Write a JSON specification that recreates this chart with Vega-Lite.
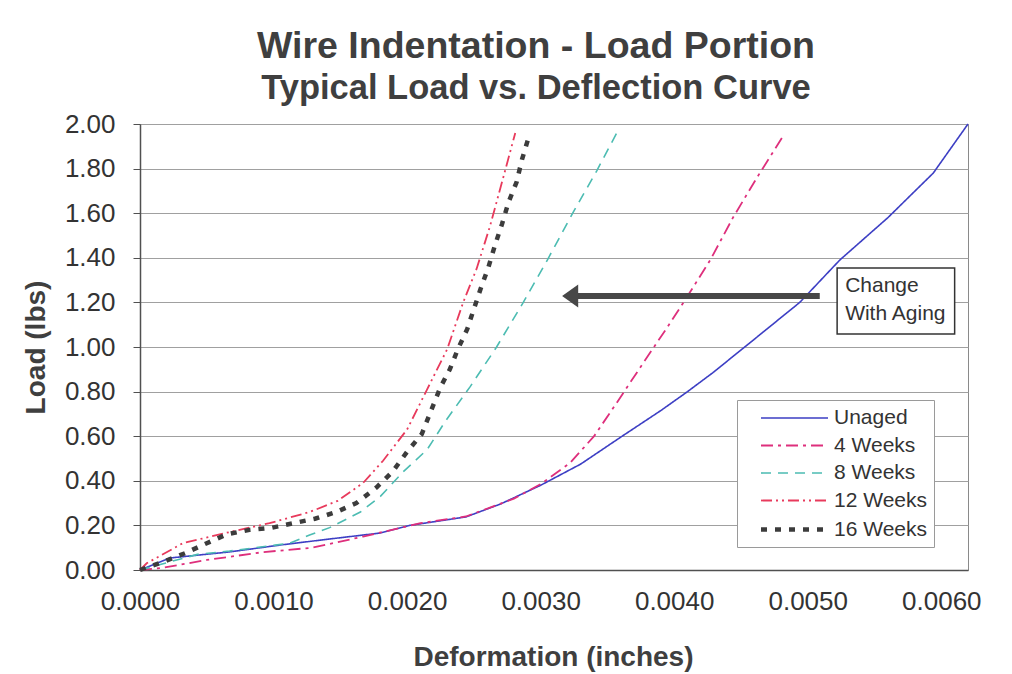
{
  "$schema": "https://vega.github.io/schema/vega-lite/v6.json",
  "width": 828,
  "height": 446,
  "autosize": {"type": "none"},
  "padding": {"left": 140, "top": 124, "right": 44, "bottom": 104},
  "background": "white",
  "title": {
    "text": "Wire Indentation - Load Portion",
    "subtitle": "Typical Load vs. Deflection Curve",
    "anchor": "middle",
    "dx": -18,
    "offset": 6,
    "font": "Liberation Sans",
    "fontSize": 37.5,
    "fontWeight": "bold",
    "color": "#3f3f3f",
    "subtitleFont": "Liberation Sans",
    "subtitleFontSize": 34.5,
    "subtitleFontWeight": "bold",
    "subtitleColor": "#3f3f3f",
    "subtitlePadding": 6
  },
  "config": {
    "font": "Liberation Sans",
    "view": {"stroke": "#8a8a8a", "strokeWidth": 1},
    "legend": {
      "orient": "none",
      "legendX": 597,
      "legendY": 276,
      "padding": 7,
      "strokeColor": "#9a9a9a",
      "fillColor": "white",
      "symbolType": "M -3.35 0 L 3.35 0",
      "symbolSize": 400,
      "symbolOffset": 38,
      "labelFont": "Liberation Sans",
      "labelFontSize": 21,
      "labelColor": "#333333",
      "labelOffset": 27,
      "rowPadding": 6.5,
      "cornerRadius": 0
    }
  },
  "datasets": {
    "curves": [
      {"series": "Unaged", "deformation": 0, "load": 0},
      {"series": "Unaged", "deformation": 0.000225, "load": 0.054},
      {"series": "Unaged", "deformation": 0.00067, "load": 0.081},
      {"series": "Unaged", "deformation": 0.00105, "load": 0.112},
      {"series": "Unaged", "deformation": 0.00142, "load": 0.139},
      {"series": "Unaged", "deformation": 0.0018, "load": 0.166},
      {"series": "Unaged", "deformation": 0.00202, "load": 0.2},
      {"series": "Unaged", "deformation": 0.00244, "load": 0.238},
      {"series": "Unaged", "deformation": 0.0027, "load": 0.296},
      {"series": "Unaged", "deformation": 0.003, "load": 0.38},
      {"series": "Unaged", "deformation": 0.0033, "load": 0.475},
      {"series": "Unaged", "deformation": 0.0036, "load": 0.596},
      {"series": "Unaged", "deformation": 0.0039, "load": 0.715},
      {"series": "Unaged", "deformation": 0.0041, "load": 0.8},
      {"series": "Unaged", "deformation": 0.00429, "load": 0.885},
      {"series": "Unaged", "deformation": 0.00459, "load": 1.03},
      {"series": "Unaged", "deformation": 0.00494, "load": 1.2},
      {"series": "Unaged", "deformation": 0.00524, "load": 1.39},
      {"series": "Unaged", "deformation": 0.0056, "load": 1.58},
      {"series": "Unaged", "deformation": 0.00594, "load": 1.78},
      {"series": "Unaged", "deformation": 0.0062, "load": 2.0},

      {"series": "4 Weeks", "deformation": 0, "load": 0},
      {"series": "4 Weeks", "deformation": 0.00017, "load": 0.01},
      {"series": "4 Weeks", "deformation": 0.0005, "load": 0.045},
      {"series": "4 Weeks", "deformation": 0.00092, "load": 0.08},
      {"series": "4 Weeks", "deformation": 0.00129, "load": 0.1},
      {"series": "4 Weeks", "deformation": 0.00167, "load": 0.15},
      {"series": "4 Weeks", "deformation": 0.0021, "load": 0.21},
      {"series": "4 Weeks", "deformation": 0.00244, "load": 0.24},
      {"series": "4 Weeks", "deformation": 0.0028, "load": 0.32},
      {"series": "4 Weeks", "deformation": 0.003, "load": 0.385},
      {"series": "4 Weeks", "deformation": 0.00322, "load": 0.48},
      {"series": "4 Weeks", "deformation": 0.0034, "load": 0.6},
      {"series": "4 Weeks", "deformation": 0.00357, "load": 0.75},
      {"series": "4 Weeks", "deformation": 0.00377, "load": 0.93},
      {"series": "4 Weeks", "deformation": 0.00395, "load": 1.09},
      {"series": "4 Weeks", "deformation": 0.00407, "load": 1.2},
      {"series": "4 Weeks", "deformation": 0.00427, "load": 1.39},
      {"series": "4 Weeks", "deformation": 0.00444, "load": 1.58},
      {"series": "4 Weeks", "deformation": 0.00462, "load": 1.76},
      {"series": "4 Weeks", "deformation": 0.00482, "load": 1.95},

      {"series": "8 Weeks", "deformation": 0, "load": 0},
      {"series": "8 Weeks", "deformation": 0.00043, "load": 0.07},
      {"series": "8 Weeks", "deformation": 0.00067, "load": 0.085},
      {"series": "8 Weeks", "deformation": 0.00112, "load": 0.12},
      {"series": "8 Weeks", "deformation": 0.00127, "load": 0.157},
      {"series": "8 Weeks", "deformation": 0.00142, "load": 0.19},
      {"series": "8 Weeks", "deformation": 0.00165, "load": 0.26},
      {"series": "8 Weeks", "deformation": 0.0018, "load": 0.33},
      {"series": "8 Weeks", "deformation": 0.00197, "load": 0.44},
      {"series": "8 Weeks", "deformation": 0.00215, "load": 0.54},
      {"series": "8 Weeks", "deformation": 0.00229, "load": 0.67},
      {"series": "8 Weeks", "deformation": 0.00247, "load": 0.82},
      {"series": "8 Weeks", "deformation": 0.00267, "load": 1.0},
      {"series": "8 Weeks", "deformation": 0.00287, "load": 1.2},
      {"series": "8 Weeks", "deformation": 0.00305, "load": 1.39},
      {"series": "8 Weeks", "deformation": 0.00324, "load": 1.6},
      {"series": "8 Weeks", "deformation": 0.00342, "load": 1.79},
      {"series": "8 Weeks", "deformation": 0.00357, "load": 1.96},

      {"series": "12 Weeks", "deformation": 0, "load": 0},
      {"series": "12 Weeks", "deformation": 0.00005, "load": 0.03},
      {"series": "12 Weeks", "deformation": 0.00032, "load": 0.12},
      {"series": "12 Weeks", "deformation": 0.00067, "load": 0.17},
      {"series": "12 Weeks", "deformation": 0.00097, "load": 0.21},
      {"series": "12 Weeks", "deformation": 0.00127, "load": 0.26},
      {"series": "12 Weeks", "deformation": 0.00148, "load": 0.31},
      {"series": "12 Weeks", "deformation": 0.00167, "load": 0.39},
      {"series": "12 Weeks", "deformation": 0.00182, "load": 0.49},
      {"series": "12 Weeks", "deformation": 0.002, "load": 0.63},
      {"series": "12 Weeks", "deformation": 0.00215, "load": 0.81},
      {"series": "12 Weeks", "deformation": 0.0023, "load": 0.99},
      {"series": "12 Weeks", "deformation": 0.00242, "load": 1.2},
      {"series": "12 Weeks", "deformation": 0.00252, "load": 1.35},
      {"series": "12 Weeks", "deformation": 0.00262, "load": 1.54},
      {"series": "12 Weeks", "deformation": 0.00272, "load": 1.76},
      {"series": "12 Weeks", "deformation": 0.00281, "load": 1.96},

      {"series": "16 Weeks", "deformation": 0, "load": 0},
      {"series": "16 Weeks", "deformation": 0.00017, "load": 0.036},
      {"series": "16 Weeks", "deformation": 0.00034, "load": 0.076},
      {"series": "16 Weeks", "deformation": 0.0005, "load": 0.12},
      {"series": "16 Weeks", "deformation": 0.00065, "load": 0.16},
      {"series": "16 Weeks", "deformation": 0.00082, "load": 0.18},
      {"series": "16 Weeks", "deformation": 0.00099, "load": 0.19},
      {"series": "16 Weeks", "deformation": 0.00115, "load": 0.21},
      {"series": "16 Weeks", "deformation": 0.00131, "load": 0.23},
      {"series": "16 Weeks", "deformation": 0.00147, "load": 0.26},
      {"series": "16 Weeks", "deformation": 0.00162, "load": 0.3},
      {"series": "16 Weeks", "deformation": 0.00177, "load": 0.37},
      {"series": "16 Weeks", "deformation": 0.00189, "load": 0.44},
      {"series": "16 Weeks", "deformation": 0.002, "load": 0.53},
      {"series": "16 Weeks", "deformation": 0.00211, "load": 0.61},
      {"series": "16 Weeks", "deformation": 0.00225, "load": 0.82},
      {"series": "16 Weeks", "deformation": 0.00232, "load": 0.9},
      {"series": "16 Weeks", "deformation": 0.00238, "load": 0.99},
      {"series": "16 Weeks", "deformation": 0.00245, "load": 1.08},
      {"series": "16 Weeks", "deformation": 0.0025, "load": 1.17},
      {"series": "16 Weeks", "deformation": 0.00255, "load": 1.26},
      {"series": "16 Weeks", "deformation": 0.00261, "load": 1.36},
      {"series": "16 Weeks", "deformation": 0.00266, "load": 1.46},
      {"series": "16 Weeks", "deformation": 0.00271, "load": 1.55},
      {"series": "16 Weeks", "deformation": 0.00276, "load": 1.65},
      {"series": "16 Weeks", "deformation": 0.00282, "load": 1.74},
      {"series": "16 Weeks", "deformation": 0.00286, "load": 1.84},
      {"series": "16 Weeks", "deformation": 0.00291, "load": 1.94}
    ]
  },
  "layer": [
    {
      "data": {"name": "curves"},
      "mark": {"type": "line", "interpolate": "linear", "strokeCap": "butt"},
      "encoding": {
        "x": {
          "field": "deformation",
          "type": "quantitative",
          "scale": {"domain": [0, 0.0062], "nice": false, "zero": true},
          "axis": {
            "title": "Deformation (inches)",
            "values": [0, 0.001, 0.002, 0.003, 0.004, 0.005, 0.006],
            "format": ".4f",
            "grid": false,
            "ticks": false,
            "tickSize": 0,
            "labelFlush": false,
            "labelOverlap": false,
            "labelPadding": 18,
            "labelFontSize": 26,
            "labelColor": "#333333",
            "labelFont": "Liberation Sans",
            "domainColor": "#505050",
            "domainWidth": 1.5,
            "titleFont": "Liberation Sans",
            "titleFontSize": 28,
            "titleFontWeight": "bold",
            "titleColor": "#3f3f3f",
            "titlePadding": 29,
            "titleX": 413
          }
        },
        "y": {
          "field": "load",
          "type": "quantitative",
          "scale": {"domain": [0, 2], "nice": false},
          "axis": {
            "title": "Load (lbs)",
            "values": [0, 0.2, 0.4, 0.6, 0.8, 1.0, 1.2, 1.4, 1.6, 1.8, 2.0],
            "format": ".2f",
            "grid": true,
            "gridColor": "#a0a0a0",
            "gridWidth": 1,
            "tickSize": 7,
            "tickColor": "#505050",
            "labelFlush": false,
            "labelOverlap": false,
            "labelPadding": 18,
            "labelFontSize": 26,
            "labelColor": "#333333",
            "labelFont": "Liberation Sans",
            "domainColor": "#505050",
            "domainWidth": 1.5,
            "titleFont": "Liberation Sans",
            "titleFontSize": 28,
            "titleFontWeight": "bold",
            "titleColor": "#3f3f3f",
            "titlePadding": 14
          }
        },
        "color": {
          "field": "series",
          "type": "nominal",
          "scale": {
            "domain": ["Unaged", "4 Weeks", "8 Weeks", "12 Weeks", "16 Weeks"],
            "range": ["#3d3fc4", "#de2f7c", "#4cbcb2", "#e83a5c", "#3c3c3c"]
          },
          "legend": {"title": null}
        },
        "strokeDash": {
          "field": "series",
          "type": "nominal",
          "scale": {
            "domain": ["Unaged", "4 Weeks", "8 Weeks", "12 Weeks", "16 Weeks"],
            "range": [[1, 0], [12, 5, 3, 5], [10, 7], [11, 4, 2, 4, 2, 4], [6, 8]]
          },
          "legend": {"title": null}
        },
        "strokeWidth": {
          "field": "series",
          "type": "ordinal",
          "sort": ["Unaged", "4 Weeks", "8 Weeks", "12 Weeks", "16 Weeks"],
          "scale": {
            "type": "ordinal",
            "domain": ["Unaged", "4 Weeks", "8 Weeks", "12 Weeks", "16 Weeks"],
            "range": [1.6, 1.8, 1.6, 1.8, 4.5]
          },
          "legend": {"title": null}
        }
      }
    },
    {
      "data": {"values": [{"from": 0.00509, "to": 0.00326, "load": 1.229}]},
      "mark": {"type": "rule", "color": "#474747", "strokeWidth": 6},
      "encoding": {
        "x": {"field": "from", "type": "quantitative"},
        "x2": {"field": "to"},
        "y": {"field": "load", "type": "quantitative"}
      }
    },
    {
      "data": {"values": [{"tip": 0.003221, "load": 1.229}]},
      "mark": {
        "type": "point",
        "shape": "M -0.7 0 L 0.7 -1 L 0.7 1 Z",
        "size": 529,
        "filled": true,
        "color": "#474747",
        "opacity": 1
      },
      "encoding": {
        "x": {"field": "tip", "type": "quantitative"},
        "y": {"field": "load", "type": "quantitative"}
      }
    },
    {
      "data": {"values": [{"left": 0.00522, "right": 0.0061, "bottom": 1.058, "top": 1.354}]},
      "mark": {"type": "rect", "fill": "white", "stroke": "#333333", "strokeWidth": 1.5},
      "encoding": {
        "x": {"field": "left", "type": "quantitative"},
        "x2": {"field": "right"},
        "y": {"field": "top", "type": "quantitative"},
        "y2": {"field": "bottom"}
      }
    },
    {
      "data": {"values": [{"left": 0.00528, "load": 1.247, "note": "Change\nWith Aging"}]},
      "mark": {
        "type": "text",
        "align": "left",
        "baseline": "alphabetic",
        "lineBreak": "\n",
        "lineHeight": 28,
        "font": "Liberation Sans",
        "fontSize": 21,
        "color": "#333333"
      },
      "encoding": {
        "x": {"field": "left", "type": "quantitative"},
        "y": {"field": "load", "type": "quantitative"},
        "text": {"field": "note"}
      }
    }
  ]
}
